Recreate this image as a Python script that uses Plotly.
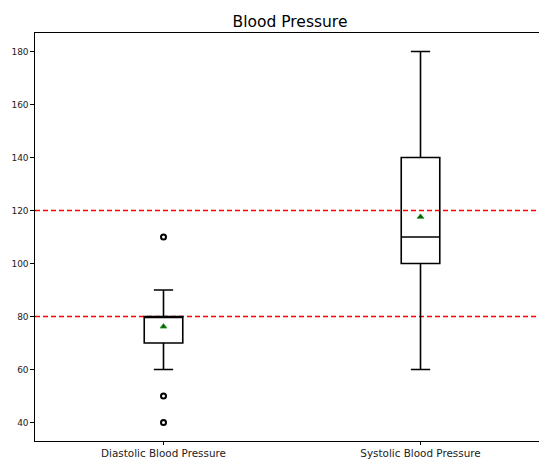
import plotly.graph_objects as go

# Summary statistics for each blood-pressure measurement
categories = ["Diastolic Blood Pressure", "Systolic Blood Pressure"]
positions = [1, 2]
q1 = [70, 100]
median = [80, 110]
q3 = [80, 140]
lower_whisker = [60, 60]
upper_whisker = [90, 180]
means = [76.2, 117.6]
outlier_x = [1, 1, 1]
outlier_y = [110, 50, 40]
reference_levels = [80, 120]
y_ticks = [40, 60, 80, 100, 120, 140, 160, 180]

fig = go.Figure()

fig.add_trace(go.Box(
    x=positions,
    q1=q1,
    median=median,
    q3=q3,
    lowerfence=lower_whisker,
    upperfence=upper_whisker,
    width=0.15,
    whiskerwidth=0.5,
    fillcolor="rgba(255,255,255,0)",
    line=dict(color="black", width=1.6),
    boxpoints=False,
    showlegend=False,
    hoverinfo="skip",
))

# Outliers
fig.add_trace(go.Scatter(
    x=outlier_x, y=outlier_y, mode="markers",
    marker=dict(symbol="circle-open", size=5, color="black", line=dict(width=2, color="black")),
    showlegend=False, hoverinfo="skip",
))

# Means
fig.add_trace(go.Scatter(
    x=positions, y=means, mode="markers",
    marker=dict(symbol="triangle-up", size=6, color="#0a5c0a", line=dict(width=0.8, color="#2ca02c")),
    showlegend=False, hoverinfo="skip",
))

# Reference levels
for level in reference_levels:
    fig.add_shape(type="line", xref="paper", x0=0, x1=1, yref="y", y0=level, y1=level,
                  line=dict(color="#ff0000", width=1.6, dash="5px,3px"), layer="below")

fig.update_layout(
    width=539, height=459,
    margin=dict(l=35, r=0, t=33, b=18),
    paper_bgcolor="white", plot_bgcolor="white",
    title=dict(text="Blood Pressure", x=290 / 539, xanchor="center",
               y=1 - 22 / 459, yanchor="middle",
               font=dict(family="DejaVu Sans", size=15.5, color="black")),
    xaxis=dict(range=[0.5, 0.5 + 504 / 257], tickvals=positions, ticktext=categories,
               automargin=False,
               showgrid=False, zeroline=False, showline=True, mirror=True,
               linecolor="black", linewidth=1.2, ticks="outside", ticklen=2.5,
               tickcolor="black", tickwidth=0.8,
               tickfont=dict(family="DejaVu Sans", size=10.4, color="#222")),
    yaxis=dict(range=[33, 187], tickvals=y_ticks, automargin=False,
               showgrid=False, zeroline=False,
               showline=True, linecolor="black", linewidth=1.2, ticks="outside",
               ticklen=3.5, tickcolor="black", tickwidth=0.8,
               tickfont=dict(family="DejaVu Sans", size=9, color="#222")),
)

fig.write_html("out.html")
